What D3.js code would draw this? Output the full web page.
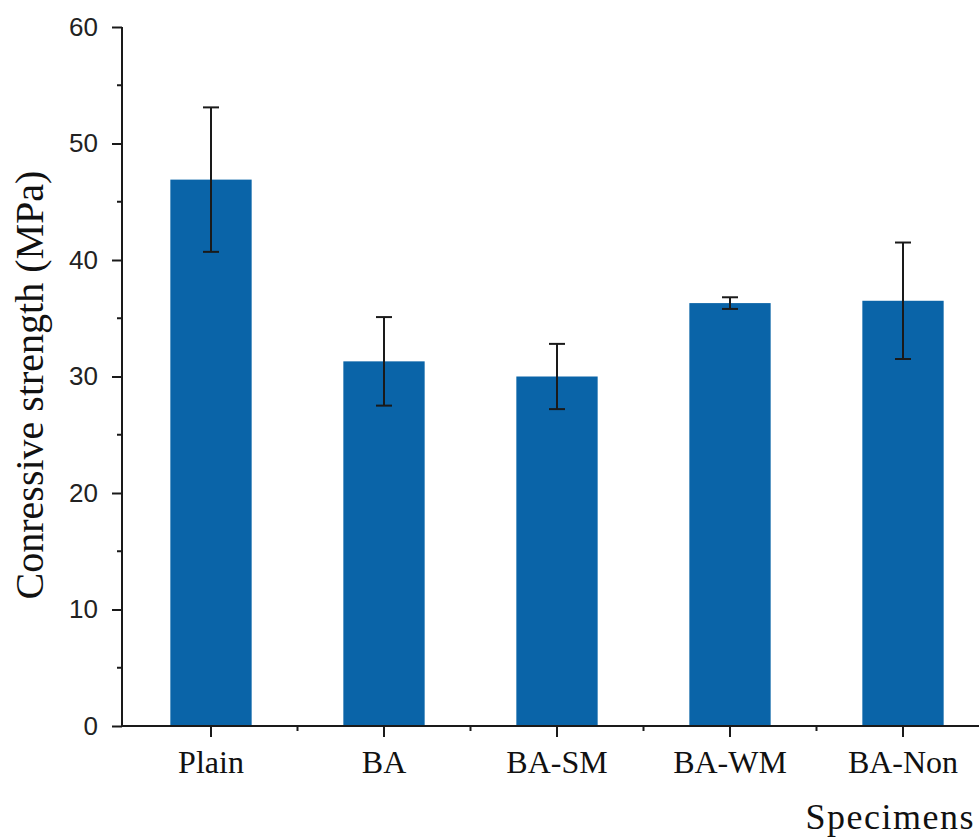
<!DOCTYPE html>
<html>
<head>
<meta charset="utf-8">
<script src="https://cdn.jsdelivr.net/npm/d3@7"></script>
<style>
  body { margin: 0; background: #fff; }
</style>
</head>
<body>
<svg id="chart"></svg>
<script>
const specimens = ['Plain', 'BA', 'BA-SM', 'BA-WM', 'BA-Non'];
const strength = [46.9, 31.3, 30.0, 36.3, 36.5];
const errors = [6.2, 3.8, 2.8, 0.5, 5.0];
const yTicks = [0, 10, 20, 30, 40, 50, 60];
const yMinorTicks = [5, 15, 25, 35, 45, 55];

const W = 979, H = 837;
const svg = d3.select('#chart')
  .attr('width', W)
  .attr('height', H);

const axisX = 122;
const y = d3.scaleLinear()
  .domain([0, 60])
  .range([726, 27]);

const x = d3.scaleBand()
  .domain(specimens)
  .range([124.5, 989.5])
  .paddingInner(0.53)
  .paddingOuter(0.265);

const barColor = '#0a64a8';

// bars
svg.append('g')
  .selectAll('rect')
  .data(specimens)
  .enter()
  .append('rect')
  .attr('x', d => x(d))
  .attr('y', (d, i) => y(strength[i]))
  .attr('width', x.bandwidth())
  .attr('height', (d, i) => y(0) - y(strength[i]))
  .attr('fill', barColor);

// error bars
const err = svg.append('g')
  .attr('stroke', '#1a1a1a')
  .attr('stroke-width', 2)
  .selectAll('g')
  .data(specimens)
  .enter()
  .append('g')
  .attr('transform', d => `translate(${x(d) + x.bandwidth() / 2},0)`);

err.append('line')
  .attr('y1', (d, i) => y(strength[i] + errors[i]))
  .attr('y2', (d, i) => y(strength[i] - errors[i]));
err.append('line')
  .attr('x1', -8).attr('x2', 8)
  .attr('y1', (d, i) => y(strength[i] + errors[i]))
  .attr('y2', (d, i) => y(strength[i] + errors[i]));
err.append('line')
  .attr('x1', -8).attr('x2', 8)
  .attr('y1', (d, i) => y(strength[i] - errors[i]))
  .attr('y2', (d, i) => y(strength[i] - errors[i]));

// y axis
const yAxis = svg.append('g')
  .attr('transform', `translate(${axisX},0)`)
  .call(d3.axisLeft(y).tickValues(yTicks).tickSize(10).tickSizeOuter(0).tickPadding(14));
yAxis.select('.domain').attr('stroke', '#1a1a1a').attr('stroke-width', 2)
  .attr('d', `M0,${y(60)}V${y(0)}`);
yAxis.selectAll('.tick line').attr('stroke', '#1a1a1a').attr('stroke-width', 2);
yAxis.selectAll('.tick text')
  .attr('font-family', '"Liberation Sans", Arial, sans-serif')
  .attr('font-size', 26)
  .attr('fill', '#222');

svg.append('g')
  .attr('transform', `translate(${axisX},0)`)
  .selectAll('line')
  .data(yMinorTicks)
  .enter()
  .append('line')
  .attr('x1', -5).attr('x2', 0)
  .attr('y1', d => y(d)).attr('y2', d => y(d))
  .attr('stroke', '#1a1a1a')
  .attr('stroke-width', 2);

// x axis
const xAxis = svg.append('g')
  .attr('transform', `translate(0,${y(0)})`)
  .call(d3.axisBottom(x).tickSize(11).tickSizeOuter(0).tickPadding(13));
xAxis.select('.domain').attr('stroke', '#1a1a1a').attr('stroke-width', 2)
  .attr('d', `M${axisX - 1},0H${W}`);
xAxis.selectAll('.tick line').attr('stroke', '#1a1a1a').attr('stroke-width', 2);
xAxis.selectAll('.tick text')
  .attr('font-family', '"Liberation Serif", "Times New Roman", serif')
  .attr('font-size', 32)
  .attr('fill', '#111');

xAxis.selectAll('.minor')
  .data(specimens.slice(1))
  .enter()
  .append('line')
  .attr('class', 'minor')
  .attr('x1', d => x(d) - x.step() * x.paddingInner() / 2)
  .attr('x2', d => x(d) - x.step() * x.paddingInner() / 2)
  .attr('y1', 0).attr('y2', 5)
  .attr('stroke', '#1a1a1a')
  .attr('stroke-width', 2);

// axis titles
svg.append('text')
  .attr('transform', `translate(43,385) rotate(-90)`)
  .attr('text-anchor', 'middle')
  .attr('font-family', '"Liberation Serif", "Times New Roman", serif')
  .attr('font-size', 40)
  .attr('fill', '#111')
  .text('Conressive strength (MPa)');

svg.append('text')
  .attr('x', 975)
  .attr('y', 829)
  .attr('text-anchor', 'end')
  .attr('font-family', '"Liberation Serif", "Times New Roman", serif')
  .attr('font-size', 36)
  .attr('letter-spacing', 1.5)
  .attr('fill', '#111')
  .text('Specimens');
</script>
</body>
</html>
